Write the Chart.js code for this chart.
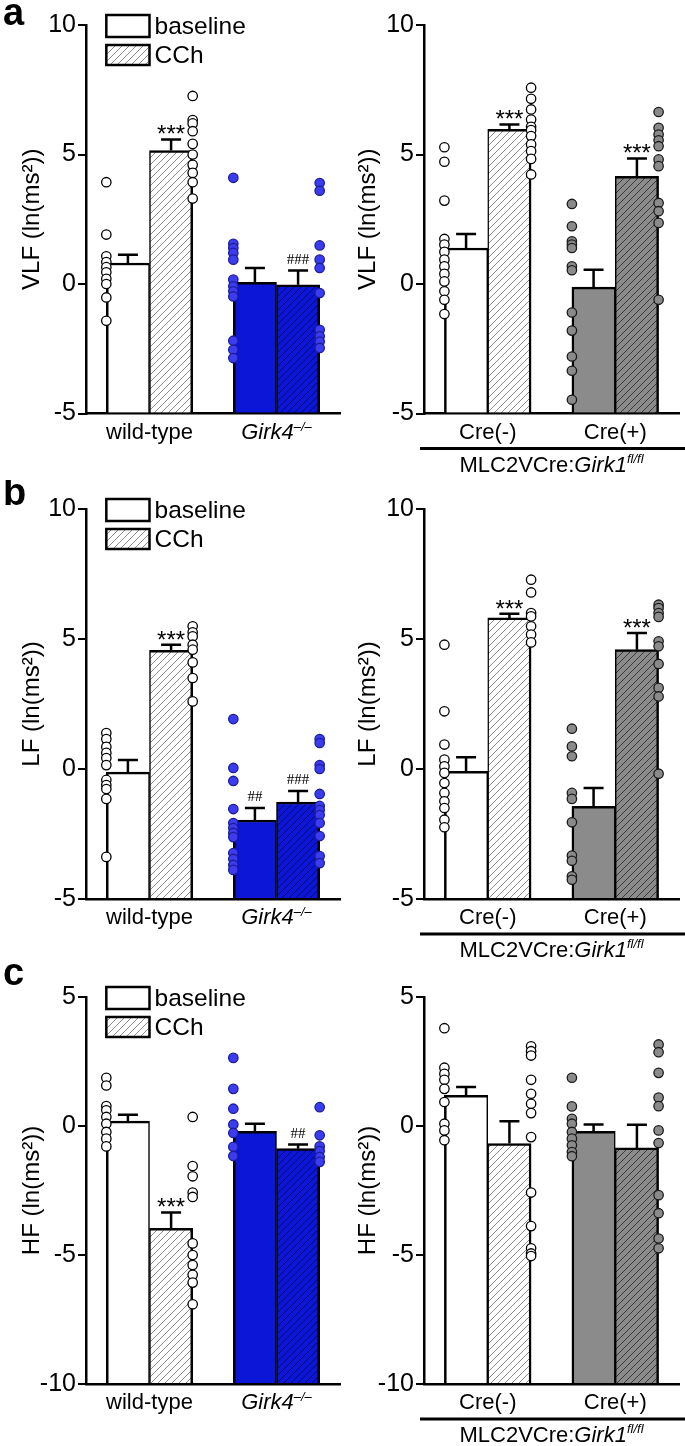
<!DOCTYPE html>
<html>
<head>
<meta charset="utf-8">
<script src="https://cdn.jsdelivr.net/npm/chart.js@4.4.1/dist/chart.umd.min.js"></script>
<style>
  html, body { margin: 0; padding: 0; background: #fff; }
  #fig { position: relative; width: 685px; height: 1446px; overflow: hidden; }
  #fig canvas { position: absolute; }
</style>
</head>
<body>
<div id="fig"></div>
<script>
// Bar order in every panel: [control baseline, control CCh, mutant baseline, mutant CCh]
const groupsG4 = ['wild-type', 'Girk4'];
const groupsG1 = ['Cre(-)', 'Cre(+)'];
const ticksAB = [-5, 0, 5, 10];
const ticksC = [-10, -5, 0, 5];

// a: VLF
const vlfG4Mean = [0.81, 5.15, 0.06, -0.03];
const vlfG4Sem = [0.32, 0.43, 0.56, 0.55];
const vlfG4Marks = ['', '***', '', '###'];
const vlfG4Pts = [
  [3.93, 1.91, 1.07, 0.85, 0.65, 0.45, 0.2, 0.0, -0.52, -1.42],
  [7.26, 6.33, 6.2, 5.9, 5.41, 5.0, 4.6, 4.29, 3.93, 3.3],
  [4.1, 1.55, 1.39, 1.2, 0.94, 0.17, -0.09, -0.28, -0.48, -2.19, -2.54, -2.86],
  [3.9, 3.6, 1.49, 0.94, 0.62, -0.35, -1.77, -2.02, -2.22, -2.47],
];
const vlfG1Mean = [1.39, 5.97, -0.12, 4.16];
const vlfG1Sem = [0.54, 0.19, 0.67, 0.69];
const vlfG1Marks = ['', '***', '', '***'];
const vlfG1Pts = [
  [5.28, 4.72, 3.22, 1.74, 1.52, 1.24, 0.94, 0.68, 0.39, 0.1, -0.28, -0.61, -1.16],
  [7.58, 7.15, 6.74, 6.35, 6.07, 5.94, 5.71, 5.39, 5.13, 4.83, 4.23],
  [3.09, 2.23, 1.65, 1.52, 1.39, 0.68, 0.53, -1.1, -1.8, -2.8, -3.35, -4.47],
  [6.64, 6.03, 5.77, 5.55, 5.32, 4.81, 4.55, 3.13, 2.81, 2.36, -0.61],
];

// b: LF
const lfG4Mean = [-0.12, 4.56, -1.96, -1.27];
const lfG4Sem = [0.47, 0.22, 0.46, 0.42];
const lfG4Marks = ['', '***', '##', '###'];
const lfG4Pts = [
  [1.38, 1.15, 0.85, 0.62, 0.42, 0.15, -0.42, -0.62, -0.77, -1.15, -3.38],
  [5.49, 5.26, 5.1, 4.78, 4.59, 4.1, 3.5, 2.6],
  [1.92, 0.04, -0.46, -1.54, -2.08, -2.27, -2.46, -2.62, -3.23, -3.46, -3.69, -3.88],
  [1.15, 1.0, 0.15, 0.0, -0.96, -1.42, -1.58, -1.77, -2.08, -2.58, -3.35, -3.62],
];
const lfG1Mean = [-0.09, 5.81, -1.44, 4.59];
const lfG1Sem = [0.54, 0.16, 0.71, 0.64];
const lfG1Marks = ['', '***', '', '***'];
const lfG1Pts = [
  [4.78, 2.22, 0.94, 0.36, 0.1, -0.15, -0.54, -0.92, -1.24, -1.5, -1.95, -2.24],
  [7.28, 6.79, 6.0, 5.87, 5.49, 5.17, 4.87],
  [1.55, 0.87, 0.49, -0.92, -1.15, -2.05, -3.33, -3.53, -4.13, -4.26],
  [6.32, 6.19, 6.0, 5.85, 4.91, 4.72, 4.04, 3.12, 2.79, -0.18],
];

// c: HF
const hfG4Mean = [0.19, -3.97, -0.21, -0.88];
const hfG4Sem = [0.25, 0.62, 0.3, 0.16];
const hfG4Marks = ['', '***', '', '##'];
const hfG4Pts = [
  [1.87, 1.57, 0.77, 0.61, 0.35, 0.09, -0.23, -0.49, -0.79],
  [0.35, -1.55, -1.95, -2.58, -2.75, -4.55, -5.0, -5.39, -5.77, -6.07, -6.91],
  [2.64, 1.44, 0.67, 0.06, -0.27, -0.81, -1.16],
  [0.73, -0.36, -0.79, -0.97, -1.2, -1.39],
];
const hfG1Mean = [1.19, -0.68, -0.21, -0.85];
const hfG1Sem = [0.32, 0.86, 0.27, 0.9];
const hfG1Marks = ['', '', '', ''];
const hfG1Pts = [
  [3.79, 2.26, 2.02, 1.79, 1.44, 0.93, 0.09, -0.17, -0.55],
  [3.09, 2.9, 2.73, 1.79, 1.25, 0.86, 0.5, -0.43, -2.58, -3.88, -4.74, -4.94, -5.04],
  [1.87, 0.76, 0.28, 0.09, -0.23, -0.49, -0.75, -1.01, -1.17],
  [3.16, 2.86, 2.06, 1.1, 0.77, -0.17, -0.66, -2.68, -3.38, -4.36, -4.74],
];

// ── layout / style ─────────────────────────────────────────────────────────
const FONT = '"Liberation Sans", Arial, Helvetica, sans-serif';
const HALF = 0.34;                         // one bar = 34% of a group slot
const BAR_X = [-HALF / 2, HALF / 2, 1 - HALF / 2, 1 + HALF / 2];
const PT_X = [-HALF, HALF, 1 - HALF, 1 + HALF];  // dots sit on the outer edge of each pair

const ROWS = [
  { top: 0, h: 480, plotTop: 25, plotBottom: 413.5 },
  { top: 480, h: 480, plotTop: 29, plotBottom: 419 },
  { top: 960, h: 486, plotTop: 37, plotBottom: 424 },
];
const SIDES = {
  G4: { left: 0, w: 346, yW: 86, padR: 0, titlePad: 17.6 },
  G1: { left: 340, w: 345, yW: 84, padR: 3, titlePad: 13.6 },
};

function hatch(bg, fg) {
  const s = 7;
  const c = document.createElement('canvas');
  c.width = s; c.height = s;
  const g = c.getContext('2d');
  g.fillStyle = bg; g.fillRect(0, 0, s, s);
  g.strokeStyle = fg; g.lineWidth = 1;
  g.beginPath();
  g.moveTo(0, s); g.lineTo(s, 0);
  g.moveTo(-1, 1); g.lineTo(1, -1);
  g.moveTo(s - 1, s + 1); g.lineTo(s + 1, s - 1);
  g.stroke();
  return g.createPattern(c, 'repeat');
}

const WHITE = { bar: '#ffffff', hatch: hatch('#ffffff', '#8c8c8c'), dot: '#ffffff', edge: '#000000' };
const BLUE = { bar: '#0b16d6', hatch: hatch('#0b16d6', '#08086e'), dot: '#3b3cf0', edge: '#1c1c9a' };
const GRAY = { bar: '#8b8b8b', hatch: hatch('#8b8b8b', '#3a3a3a'), dot: '#8a8a8a', edge: '#1a1a1a' };

function richText(ctx, parts, cx, baseY) {
  const widths = parts.map((pt) => { ctx.font = pt.font; return ctx.measureText(pt.text).width; });
  let xx = cx - widths.reduce((a, b) => a + b, 0) / 2;
  ctx.textAlign = 'left';
  ctx.textBaseline = 'alphabetic';
  parts.forEach((pt, i) => {
    ctx.font = pt.font;
    ctx.fillText(pt.text, xx, baseY - (pt.rise || 0));
    xx += widths[i];
  });
}

function extras(p) {
  return {
    id: 'extras',
    afterDatasetsDraw(chart) {
      const { ctx, chartArea: a, scales: { x, xp, y } } = chart;
      ctx.save();
      ctx.fillStyle = '#000';
      ctx.strokeStyle = '#000';

      // SEM bars (upper half only) + significance marks
      ctx.lineWidth = 2.5;
      p.mean.forEach((m, i) => {
        const cx = xp.getPixelForValue(BAR_X[i]);
        const top = y.getPixelForValue(m + p.sem[i]);
        ctx.beginPath();
        ctx.moveTo(cx, y.getPixelForValue(m));
        ctx.lineTo(cx, top);
        ctx.moveTo(cx - 10, top);
        ctx.lineTo(cx + 10, top);
        ctx.stroke();
        const mark = p.marks[i];
        if (!mark) return;
        ctx.textAlign = 'center';
        ctx.textBaseline = 'alphabetic';
        if (mark[0] === '*') {
          ctx.font = `24px ${FONT}`;
          ctx.fillText(mark, cx, top + 3);
        } else {
          ctx.font = '15px "Liberation Serif", "Times New Roman", serif';
          ctx.fillText(mark, cx, top - 7);
        }
      });

      // group labels under the x axis
      const labY = a.bottom + 25;
      const x0 = x.getPixelForValue(0);
      const x1 = x.getPixelForValue(1);
      if (p.side === 'G4') {
        ctx.textAlign = 'center';
        ctx.font = `22px ${FONT}`;
        ctx.fillText(p.groups[0], x0, labY);
        richText(ctx, [
          { text: p.groups[1], font: `italic 22px ${FONT}` },
          { text: '\u2013/\u2013', font: `italic 13px ${FONT}`, rise: 8 },
        ], x1, labY);

        // legend
        const bl = xp.getPixelForValue(PT_X[0]);
        const br = xp.getPixelForValue(0);
        const boxes = [
          { top: a.top - 10, h: 22, fill: WHITE.bar, text: 'baseline' },
          { top: a.top + 20, h: 20, fill: WHITE.hatch, text: 'CCh' },
        ];
        ctx.lineWidth = 2.5;
        boxes.forEach((b) => {
          ctx.fillStyle = b.fill;
          ctx.fillRect(bl, b.top, br - bl, b.h);
          ctx.strokeRect(bl, b.top, br - bl, b.h);
          ctx.fillStyle = '#000';
          ctx.font = `24.5px ${FONT}`;
          ctx.textAlign = 'left';
          ctx.textBaseline = 'middle';
          ctx.fillText(b.text, br + 5, b.top + b.h / 2 + 1);
        });

        // panel letter
        ctx.font = `bold 38px ${FONT}`;
        ctx.textAlign = 'left';
        ctx.textBaseline = 'alphabetic';
        ctx.fillText(p.letter, 3, 25);
      } else {
        ctx.textAlign = 'center';
        ctx.font = `22px ${FONT}`;
        ctx.fillText(p.groups[0], x0, labY);
        ctx.fillText(p.groups[1], x1, labY);
        ctx.lineWidth = 3;
        ctx.beginPath();
        ctx.moveTo(a.left - 4, a.bottom + 35);
        ctx.lineTo(chart.width, a.bottom + 35);
        ctx.stroke();
        richText(ctx, [
          { text: 'MLC2VCre:', font: `22px ${FONT}` },
          { text: 'Girk1', font: `italic 22px ${FONT}` },
          { text: 'fl/fl', font: `italic 13px ${FONT}`, rise: 9 },
        ], (a.left + a.right) / 2, a.bottom + 58);
      }
      ctx.restore();
    },
  };
}

function makePanel(p) {
  const row = ROWS[p.row];
  const side = SIDES[p.side];
  const cv = document.createElement('canvas');
  cv.width = side.w;
  cv.height = row.h;
  cv.style.left = `${side.left}px`;
  cv.style.top = `${row.top}px`;
  document.getElementById('fig').appendChild(cv);

  const mut = p.side === 'G4' ? BLUE : GRAY;
  const yMin = p.ticks[0];
  const yMax = p.ticks[p.ticks.length - 1];
  const dotStyles = [WHITE, WHITE, mut, mut];

  new Chart(cv, {
    type: 'bar',
    data: {
      labels: p.groups,
      datasets: [
        {
          type: 'bar', label: 'means', xAxisID: 'xp', yAxisID: 'y', order: 2,
          data: p.mean.map((m, i) => ({ x: BAR_X[i], y: m })),
          base: yMin, grouped: false,
          categoryPercentage: 1, barPercentage: 1,
          backgroundColor: [WHITE.bar, WHITE.hatch, mut.bar, mut.hatch],
          borderColor: '#000',
          borderSkipped: 'bottom',
          borderWidth: (c) => (c.dataIndex % 2 === 0
            ? { left: 2.5, top: 2.5, right: 1.5, bottom: 0 }
            : { left: 1.5, top: 2.5, right: 2.5, bottom: 0 }),
        },
        ...p.pts.map((vals, i) => ({
          type: 'scatter', xAxisID: 'xp', yAxisID: 'y', order: 1, clip: false,
          data: vals.map((v) => ({ x: PT_X[i], y: v })),
          pointRadius: 4.7,
          pointBorderWidth: 1.3,
          pointBackgroundColor: dotStyles[i].dot,
          pointBorderColor: dotStyles[i].edge,
        })),
      ],
    },
    options: {
      responsive: false,
      animation: false,
      events: [],
      layout: { padding: { top: row.plotTop, right: side.padR, left: 0, bottom: 0 } },
      plugins: { legend: { display: false }, tooltip: { enabled: false } },
      scales: {
        x: {
          type: 'category', offset: true,
          grid: { display: false },
          border: { display: true, color: '#000', width: 2.5 },
          ticks: { display: false },
          afterFit: (s) => { s.height = row.h - row.plotBottom; },
        },
        xp: {
          type: 'linear', display: false, offset: false, min: -0.5, max: 1.5,
          afterBuildTicks: (s) => { s.ticks = [{ value: -0.5 }, { value: 1.5 }]; },
        },
        y: {
          type: 'linear', min: yMin, max: yMax,
          afterBuildTicks: (s) => { s.ticks = p.ticks.map((v) => ({ value: v })); },
          afterFit: (s) => { s.width = side.yW; },
          grid: { display: true, drawOnChartArea: false, drawTicks: true, tickLength: 8, color: '#000', lineWidth: 2 },
          border: { display: true, color: '#000', width: 2.5 },
          ticks: { color: '#000', font: { family: FONT, size: 25 }, padding: 2 },
          title: {
            display: true, text: p.title, color: '#000',
            font: { family: FONT, size: 24 },
            padding: { top: side.titlePad, bottom: 0 },
          },
        },
      },
    },
    plugins: [extras(p)],
  });
}

const panels = [
  { row: 0, side: 'G4', letter: 'a', title: 'VLF (ln(ms\u00b2))', groups: groupsG4, ticks: ticksAB,
    mean: vlfG4Mean, sem: vlfG4Sem, pts: vlfG4Pts, marks: vlfG4Marks },
  { row: 0, side: 'G1', title: 'VLF (ln(ms\u00b2))', groups: groupsG1, ticks: ticksAB,
    mean: vlfG1Mean, sem: vlfG1Sem, pts: vlfG1Pts, marks: vlfG1Marks },
  { row: 1, side: 'G4', letter: 'b', title: 'LF (ln(ms\u00b2))', groups: groupsG4, ticks: ticksAB,
    mean: lfG4Mean, sem: lfG4Sem, pts: lfG4Pts, marks: lfG4Marks },
  { row: 1, side: 'G1', title: 'LF (ln(ms\u00b2))', groups: groupsG1, ticks: ticksAB,
    mean: lfG1Mean, sem: lfG1Sem, pts: lfG1Pts, marks: lfG1Marks },
  { row: 2, side: 'G4', letter: 'c', title: 'HF (ln(ms\u00b2))', groups: groupsG4, ticks: ticksC,
    mean: hfG4Mean, sem: hfG4Sem, pts: hfG4Pts, marks: hfG4Marks },
  { row: 2, side: 'G1', title: 'HF (ln(ms\u00b2))', groups: groupsG1, ticks: ticksC,
    mean: hfG1Mean, sem: hfG1Sem, pts: hfG1Pts, marks: hfG1Marks },
];

panels.forEach(makePanel);
</script>
</body>
</html>
